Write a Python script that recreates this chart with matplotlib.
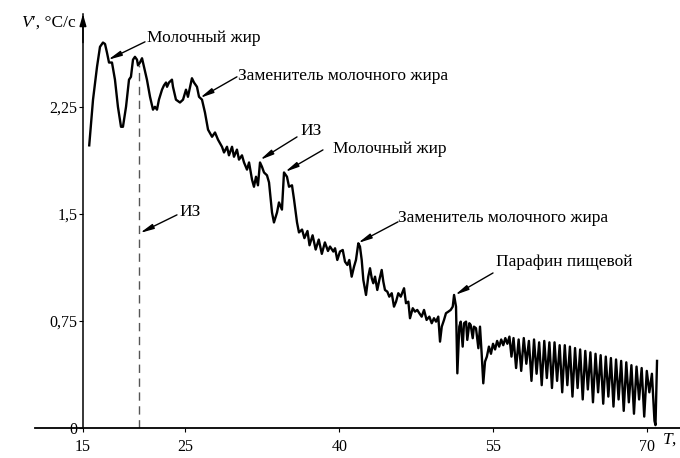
import matplotlib
matplotlib.use("Agg")
import matplotlib.pyplot as plt

# ---- data (T, °C ; V', °C/c) ----
T_head = [15.61, 15.98, 16.37, 16.66, 16.95, 17.15, 17.34, 17.54, 17.83, 18.12, 18.41, 18.71, 18.90,
          19.20, 19.49, 19.68, 19.88, 20.07, 20.27, 20.37, 20.56, 20.76, 20.95, 21.24, 21.54, 21.83,
          22.02, 22.22, 22.41, 22.71, 22.90, 23.10, 23.20, 23.39, 23.68, 23.78, 24.07, 24.46, 24.76,
          25.05, 25.24, 25.63, 25.83, 26.12, 26.32, 26.61, 26.90, 27.20, 27.59, 27.88, 28.17, 28.56,
          28.76, 29.05, 29.24, 29.54, 29.73, 30.02, 30.22, 30.51, 30.71, 31.00, 31.20, 31.49, 31.68,
          31.88, 32.07, 32.27, 32.46, 32.66, 32.95, 33.15, 33.44, 33.63, 33.93, 34.12, 34.41, 34.61,
          34.90, 35.10, 35.39, 35.59, 35.88, 36.07, 36.37]
V_head = [1.98, 2.30, 2.53, 2.67, 2.70, 2.69, 2.63, 2.56, 2.56, 2.44, 2.25, 2.11, 2.11,
          2.25, 2.44, 2.46, 2.58, 2.60, 2.58, 2.54, 2.56, 2.59, 2.53, 2.44, 2.32, 2.23,
          2.25, 2.23, 2.30, 2.37, 2.40, 2.42, 2.39, 2.42, 2.44, 2.39, 2.30, 2.28, 2.30,
          2.37, 2.32, 2.45, 2.42, 2.39, 2.32, 2.30, 2.21, 2.09, 2.04, 2.07, 2.02, 1.97,
          1.93, 1.97, 1.91, 1.97, 1.90, 1.95, 1.88, 1.91, 1.86, 1.81, 1.86, 1.74, 1.69,
          1.76, 1.70, 1.86, 1.83, 1.79, 1.77, 1.72, 1.51, 1.44, 1.51, 1.58, 1.53, 1.79,
          1.76, 1.69, 1.70, 1.60, 1.44, 1.37, 1.39]

T_mid = [36.6, 36.9, 37.1, 37.4, 37.7, 38.0, 38.3, 38.6, 38.9,
         39.10, 39.42, 39.59, 39.81, 40.07, 40.34, 40.56, 40.79, 40.98, 41.21, 41.44, 41.63, 41.86,
         42.02, 42.19, 42.35, 42.61, 42.83, 43.00, 43.17, 43.32, 43.49, 43.71, 43.91, 44.14, 44.30,
         44.46, 44.69, 44.88, 45.12, 45.34, 45.54, 45.76, 46.00, 46.19, 46.32, 46.51, 46.74, 46.90,
         47.17, 47.39, 47.61, 47.81, 48.04, 48.27, 48.52, 48.79, 49.02, 49.24, 49.44, 49.66, 49.83,
         50.00, 50.22, 50.41, 50.64, 50.87, 51.07, 51.20, 51.39, 51.52, 51.71]
V_mid = [1.33, 1.38, 1.28, 1.35, 1.25, 1.32, 1.22, 1.30, 1.24,
         1.271, 1.236, 1.259, 1.177, 1.236, 1.247, 1.165, 1.142, 1.177, 1.060, 1.130, 1.177, 1.294,
         1.271, 1.177, 1.037, 0.932, 1.060, 1.119, 1.049, 1.014, 1.060, 0.967, 1.037, 1.107, 1.025,
         0.967, 0.955, 0.920, 0.944, 0.850, 0.885, 0.944, 0.920, 0.955, 0.979, 0.874, 0.885, 0.769,
         0.839, 0.815, 0.827, 0.804, 0.780, 0.827, 0.757, 0.780, 0.734, 0.769, 0.745, 0.780, 0.605,
         0.710, 0.757, 0.804, 0.815, 0.827, 0.850, 0.932, 0.850, 0.383, 0.710]

T_tail = [51.85, 52.04, 52.17, 52.37, 52.49, 52.69, 52.82, 53.02, 53.14, 53.34, 53.57, 53.73, 53.89,
          54.05, 54.22, 54.40, 54.60, 54.80, 55.00, 55.20, 55.40, 55.60, 55.80, 56.00, 56.20, 56.40,
          56.60, 56.80,
          57.00, 57.25, 57.50, 57.75, 58.00, 58.25, 58.50, 58.75, 59.00, 59.25, 59.50, 59.75, 60.00,
          60.25, 60.50, 60.75, 61.00, 61.25, 61.50, 61.75, 62.00, 62.25, 62.50, 62.75, 63.00, 63.25,
          63.50, 63.75, 64.00, 64.25, 64.50, 64.75, 65.00, 65.25, 65.50, 65.75, 66.00, 66.25, 66.50,
          66.75, 67.00, 67.25, 67.50, 67.75, 68.00, 68.25, 68.50, 68.75, 69.00, 69.25, 69.50, 69.75,
          70.00, 70.25, 70.50, 70.75, 70.85, 71.00]
V_tail = [0.745, 0.570, 0.734, 0.745, 0.617, 0.734, 0.722, 0.629, 0.710, 0.699, 0.559, 0.710, 0.523,
          0.313, 0.465, 0.50, 0.57, 0.52, 0.59, 0.55, 0.61, 0.57, 0.62, 0.58, 0.63, 0.59,
          0.64, 0.50,
          0.63, 0.42, 0.62, 0.40, 0.63, 0.45, 0.61, 0.33, 0.62, 0.38, 0.60, 0.30, 0.61,
          0.35, 0.60, 0.28, 0.60, 0.33, 0.58, 0.25, 0.58, 0.30, 0.57, 0.22, 0.56, 0.28,
          0.55, 0.20, 0.54, 0.27, 0.53, 0.18, 0.52, 0.25, 0.51, 0.17, 0.50, 0.22, 0.49,
          0.15, 0.48, 0.20, 0.47, 0.12, 0.46, 0.18, 0.44, 0.10, 0.43, 0.20, 0.42, 0.08,
          0.40, 0.25, 0.38, 0.05, 0.02, 0.47]

x_ticks = [15, 25, 40, 55, 70]
y_ticks = [0, 0.75, 1.5, 2.25]
y_tick_labels = ["0", "0,75", "1,5", "2,25"]

iz_T = 20.45          # dashed marker line
iz_V = 2.54

# annotations: text, text position, arrow start, arrow tip (data units)
ann_text = ["Молочный жир", "Заменитель молочного жира", "ИЗ", "Молочный жир",
            "ИЗ", "Заменитель молочного жира", "Парафин пищевой"]
ann_text_xy = [(21.24, 2.733), (30.12, 2.467), (36.17, 2.081), (39.39, 1.955),
               (24.46, 1.514), (45.73, 1.472), (55.29, 1.163)]
ann_start = [(21.05, 2.705), (30.02, 2.460), (35.88, 2.039), (38.41, 1.948),
             (24.17, 1.493), (45.73, 1.444), (55.00, 1.086)]
ann_tip = [(17.44, 2.579), (26.41, 2.312), (32.27, 1.878), (34.71, 1.794),
           (20.56, 1.366), (41.83, 1.296), (51.29, 0.932)]

# ---- figure ----
W, H = 680, 458
fig = plt.figure(figsize=(W / 100, H / 100), dpi=100)
ax = fig.add_axes([35 / W, (H - 428) / H, (W - 35) / W, (428 - 14) / H])
ax.set_xlim(10.32, 73.24)
ax.set_ylim(0, 2.90)

serif = "Liberation Serif"

T_all = T_head + T_mid + T_tail
V_all = V_head + V_mid + V_tail
ax.plot(T_all, V_all, color="black", lw=1.7, solid_joinstyle="round")

ax.plot([iz_T, iz_T], [0, iz_V], color="#555555", lw=1.0, dashes=(6, 4))

for s in ["top", "right"]:
    ax.spines[s].set_visible(False)
ax.spines["left"].set_position(("data", 15))
ax.spines["left"].set_linewidth(1.1)
ax.spines["bottom"].set_linewidth(1.3)

ax.set_xticks(x_ticks)
ax.set_xticklabels([str(t) for t in x_ticks], fontfamily=serif, fontsize=11.5)
ax.set_yticks(y_ticks)
ax.set_yticklabels(y_tick_labels, fontfamily=serif, fontsize=11.5)
ax.tick_params(axis="x", direction="out", length=3, width=0.8, pad=5)
ax.tick_params(axis="y", direction="out", length=3, width=0.8, pad=1)

# y-axis arrow
ax.annotate("", xy=(15, 2.90), xytext=(15, 2.70),
            arrowprops=dict(arrowstyle="-|>,head_length=0.7,head_width=0.2", color="black", lw=1.1,
                            shrinkA=0, shrinkB=0), annotation_clip=False)

# axis labels
fig.text(21 / W, 1 - 23 / H, "V", fontfamily=serif, fontstyle="italic", fontsize=12.5, va="center", ha="left")
fig.text(32.5 / W, 1 - 23 / H, "ʹ, °C/c", fontfamily=serif, fontsize=12.5, va="center", ha="left")
fig.text(663 / W, 1 - 440 / H, "T", fontfamily=serif, fontstyle="italic", fontsize=12.5, va="center", ha="left")
fig.text(672 / W, 1 - 440 / H, ", °C", fontfamily=serif, fontsize=12.5, va="center", ha="left")

for txt, txy, st, tip in zip(ann_text, ann_text_xy, ann_start, ann_tip):
    ax.text(txy[0], txy[1], txt, fontfamily=serif, fontsize=12.5, va="center", ha="left")
    ax.annotate("", xy=tip, xytext=st,
                arrowprops=dict(arrowstyle="-|>,head_length=0.8,head_width=0.15", color="black", lw=1.0,
                                shrinkA=0, shrinkB=0))

fig.savefig("out.png", dpi=100)
